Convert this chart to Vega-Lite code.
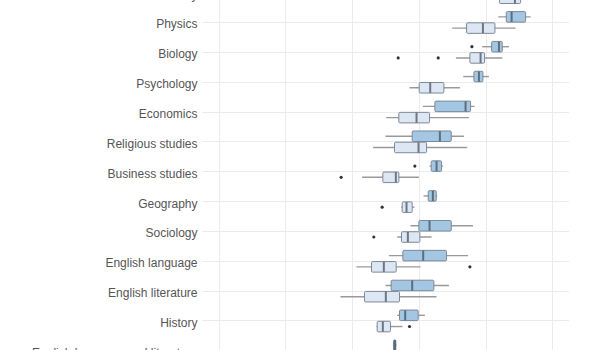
{
  "$schema": "https://vega.github.io/schema/vega-lite/v6.json",
  "autosize": "none",
  "width": 367,
  "height": 350,
  "padding": {"left": 202, "top": 0, "right": 0, "bottom": 0},
  "background": "white",
  "config": {"view": {"stroke": null}, "font": "Liberation Sans"},
  "datasets": {
    "boxes": [
      {"subject": "Chemistry", "group": "A", "lo": 8.30, "q1": 8.54, "med": 8.84, "q3": 9.17, "hi": 9.35},
      {"subject": "Chemistry", "group": "B", "lo": 8.15, "q1": 8.42, "med": 8.88, "q3": 9.05, "hi": 9.29},
      {"subject": "Physics", "group": "A", "lo": 8.38, "q1": 8.62, "med": 8.78, "q3": 9.20, "hi": 9.35},
      {"subject": "Physics", "group": "B", "lo": 7.00, "q1": 7.43, "med": 7.92, "q3": 8.28, "hi": 8.90},
      {"subject": "Biology", "group": "A", "lo": 7.90, "q1": 8.18, "med": 8.40, "q3": 8.50, "hi": 8.70},
      {"subject": "Biology", "group": "B", "lo": 7.11, "q1": 7.53, "med": 7.85, "q3": 7.97, "hi": 8.50},
      {"subject": "Psychology", "group": "A", "lo": 7.33, "q1": 7.65, "med": 7.80, "q3": 7.92, "hi": 8.10},
      {"subject": "Psychology", "group": "B", "lo": 5.72, "q1": 6.01, "med": 6.34, "q3": 6.75, "hi": 7.23},
      {"subject": "Economics", "group": "A", "lo": 6.12, "q1": 6.48, "med": 7.40, "q3": 7.55, "hi": 7.67},
      {"subject": "Economics", "group": "B", "lo": 5.02, "q1": 5.40, "med": 5.93, "q3": 6.32, "hi": 7.50},
      {"subject": "Religious studies", "group": "A", "lo": 5.00, "q1": 5.80, "med": 6.63, "q3": 6.97, "hi": 7.35},
      {"subject": "Religious studies", "group": "B", "lo": 4.63, "q1": 5.27, "med": 5.99, "q3": 6.23, "hi": 7.45},
      {"subject": "Business studies", "group": "A", "lo": 6.32, "q1": 6.37, "med": 6.53, "q3": 6.68, "hi": 6.72},
      {"subject": "Business studies", "group": "B", "lo": 4.30, "q1": 4.92, "med": 5.31, "q3": 5.40, "hi": 6.00},
      {"subject": "Geography", "group": "A", "lo": 6.14, "q1": 6.28, "med": 6.42, "q3": 6.52, "hi": 6.55},
      {"subject": "Geography", "group": "B", "lo": 5.47, "q1": 5.50, "med": 5.63, "q3": 5.80, "hi": 5.87},
      {"subject": "Sociology", "group": "A", "lo": 5.75, "q1": 6.00, "med": 6.32, "q3": 6.97, "hi": 7.62},
      {"subject": "Sociology", "group": "B", "lo": 5.35, "q1": 5.48, "med": 5.67, "q3": 6.03, "hi": 6.38},
      {"subject": "English language", "group": "A", "lo": 5.10, "q1": 5.52, "med": 6.13, "q3": 6.83, "hi": 7.47},
      {"subject": "English language", "group": "B", "lo": 4.13, "q1": 4.58, "med": 4.95, "q3": 5.32, "hi": 6.05},
      {"subject": "English literature", "group": "A", "lo": 5.00, "q1": 5.17, "med": 5.80, "q3": 6.45, "hi": 6.90},
      {"subject": "English literature", "group": "B", "lo": 3.65, "q1": 4.37, "med": 5.01, "q3": 5.42, "hi": 6.53},
      {"subject": "History", "group": "A", "lo": 5.35, "q1": 5.42, "med": 5.59, "q3": 5.98, "hi": 6.18},
      {"subject": "History", "group": "B", "lo": 4.73, "q1": 4.75, "med": 4.92, "q3": 5.15, "hi": 5.51},
      {"subject": "English language and literature", "group": "A", "lo": 5.22, "q1": 5.24, "med": 5.28, "q3": 5.31, "hi": 5.33},
      {"subject": "English language and literature", "group": "B", "lo": 4.70, "q1": 4.85, "med": 4.95, "q3": 5.05, "hi": 5.20}
    ],
    "outliers": [
      {"subject": "Biology", "group": "A", "value": 7.59},
      {"subject": "Biology", "group": "B", "value": 5.38},
      {"subject": "Biology", "group": "B", "value": 6.58},
      {"subject": "Business studies", "group": "A", "value": 5.88},
      {"subject": "Business studies", "group": "B", "value": 3.67},
      {"subject": "Geography", "group": "B", "value": 4.90},
      {"subject": "Sociology", "group": "B", "value": 4.65},
      {"subject": "English language", "group": "B", "value": 7.53},
      {"subject": "History", "group": "B", "value": 5.72}
    ]
  },
  "encoding": {
    "y": {
      "field": "subject",
      "type": "nominal",
      "scale": {
        "domain": ["Chemistry", "Physics", "Biology", "Psychology", "Economics", "Religious studies", "Business studies", "Geography", "Sociology", "English language", "English literature", "History", "English language and literature"],
        "range": [-22.3, 365.7],
        "paddingInner": 0,
        "paddingOuter": 0
      },
      "axis": {
        "title": null,
        "ticks": false,
        "domain": false,
        "labelPadding": 5,
        "labelFontSize": 12,
        "labelOffset": 2,
        "labelColor": "#555555",
        "labelFont": "Liberation Sans",
        "grid": true,
        "gridColor": "#ebebeb",
        "gridWidth": 1,
        "bandPosition": 0.5,
        "labelBound": false
      }
    },
    "yOffset": {
      "field": "group",
      "type": "nominal",
      "scale": {"domain": ["A", "B"], "paddingInner": 0.06, "paddingOuter": 0.36}
    }
  },
  "layer": [
    {
      "data": {"name": "boxes"},
      "mark": {"type": "rule", "color": "#999999", "strokeWidth": 1.4, "clip": true},
      "encoding": {
        "x": {
          "field": "lo",
          "type": "quantitative",
          "scale": {"domain": [-0.5, 10.5], "nice": false, "zero": false},
          "axis": {"title": null, "labels": false, "ticks": false, "domain": false, "grid": true, "gridColor": "#ebebeb", "gridWidth": 1, "values": [0, 1, 2, 3, 4, 5, 6, 7, 8, 9, 10]}
        },
        "x2": {"field": "hi"}
      }
    },
    {
      "data": {"name": "boxes"},
      "mark": {"type": "bar", "stroke": "#7d8898", "strokeWidth": 1, "clip": true, "cornerRadius": 1},
      "encoding": {
        "x": {"field": "q1", "type": "quantitative"},
        "x2": {"field": "q3"},
        "fill": {"field": "group", "type": "nominal", "scale": {"domain": ["A", "B"], "range": ["#a3c6e2", "#dde7f3"]}, "legend": null}
      }
    },
    {
      "data": {"name": "boxes"},
      "mark": {"type": "tick", "orient": "vertical", "color": "#3c4756", "thickness": 2, "size": 10, "clip": true},
      "encoding": {
        "x": {"field": "med", "type": "quantitative"}
      }
    },
    {
      "data": {"name": "outliers"},
      "mark": {"type": "point", "filled": true, "color": "#333333", "size": 10, "opacity": 1, "clip": true},
      "encoding": {
        "x": {"field": "value", "type": "quantitative"}
      }
    }
  ]
}
